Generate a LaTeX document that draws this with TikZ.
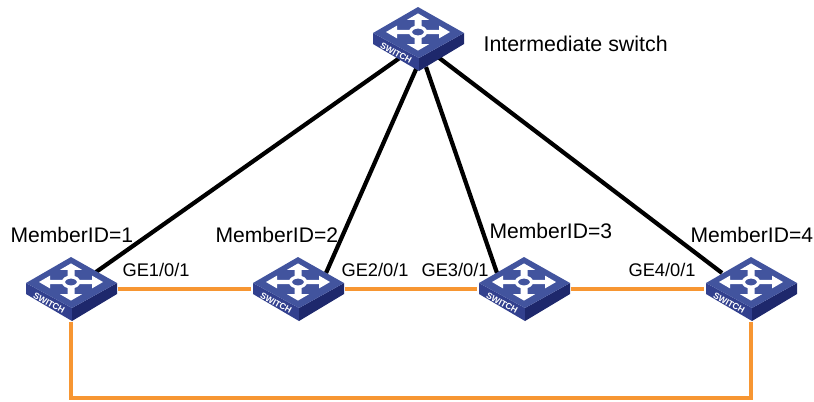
\documentclass[tikz,border=0pt]{standalone}
\usepackage{fontspec}
\setmainfont{Liberation Sans}
\definecolor{swtop}{RGB}{66,84,158}
\definecolor{swleft}{RGB}{50,64,142}
\definecolor{swright}{RGB}{30,40,108}
\definecolor{ringln}{RGB}{247,150,50}
\tikzset{x=.0125cm, y=-.0125cm}
\tikzset{lbl/.style={inner sep=0pt, anchor=base west, font=\fontsize{7.5}{8}\selectfont},
    lblge/.style={lbl, font=\fontsize{6.5}{7}\selectfont},
    upln/.style={line width=1.5pt, black},
    ringl/.style={line width=1.3pt, ringln},
    swbox/.style={minimum width=.0125cm*92, minimum height=.0125cm*64, inner sep=0pt}}
% one switch icon round the node #1
\newcommand*{\swicon}[1]{
    \begin{scope}[shift={(#1)}, yshift=.0125cm*6]
        \fill[swleft](-45, 0)--(1, 25)--(1, 38)--(-45, 11)--cycle;
        \fill[swright](1, 25)--(46, 0)--(46, 11)--(1, 38)--cycle;
        \fill[swtop](0, -26)--(46, 0)--(1, 25)--(-45, 0)--cycle;
        \begin{scope}[yshift=.0125cm*1]
            \foreach \ang in {0, 90, 180, 270}{
                \begin{scope}[cm={cos(\ang)*1, sin(\ang)*.58, -sin(\ang)*1, cos(\ang)*.58, (0, 0)}]
                    \fill[white](6, -3.5)--(21, -3.5)--(21, -11)--(32, 0)--(21, 11)--(21, 3.5)--(6, 3.5)--cycle;
                \end{scope}
            }
            \draw[white, line width=1.1pt, fill=swtop](0, 0)ellipse(7.5 and 5);
        \end{scope}
        \node[white, rotate=-29, inner sep=0pt, font=\bfseries\fontsize{3.1}{3.1}\selectfont]at(-22, 20){SWITCH};
    \end{scope}
}
\begin{document}
\begin{tikzpicture}
    \useasboundingbox(0, 0)rectangle(814, 401);
    \node[swbox](swt)at(418, 39){};		%intermediate
    \node[swbox](sw1)at(71, 289){};
    \node[swbox](sw2)at(298, 289){};
    \node[swbox](sw3)at(524, 289){};
    \node[swbox](sw4)at(751, 289){};
    \coordinate(rg1)at(71, 398);
    \coordinate(rg4)at(751, 398);
    \draw[ringl](sw1)--(sw2);
    \draw[ringl](sw2)--(sw3);
    \draw[ringl](sw3)--(sw4);
    \draw[ringl](sw1)--(rg1)--(rg4)--(sw4);
    \draw[upln]([shift={(-17, 18)}]swt.center)--([shift={(25, -17)}]sw1.center);
    \draw[upln]([shift={(-1, 28)}]swt.center)--([shift={(28, -16)}]sw2.center);
    \draw[upln]([shift={(8, 28)}]swt.center)--([shift={(-27, -16)}]sw3.center);
    \draw[upln]([shift={(20, 18)}]swt.center)--([shift={(-29, -16)}]sw4.center);
    \foreach \nm in {swt, sw1, sw2, sw3, sw4}{\swicon{\nm}}
    \node[lbl, font=\fontsize{7.6}{8}\selectfont](tintm)at(483, 51){Intermediate switch};
    \node[lbl](tm1)at(10, 242){MemberID=1};
    \node[lbl](tm2)at(215, 242){MemberID=2};
    \node[lbl](tm3)at(489, 238){MemberID=3};
    \node[lbl](tm4)at(690, 242){MemberID=4};
    \node[lblge](tg1)at(122, 276){GE1/0/1};
    \node[lblge](tg2)at(341, 276){GE2/0/1};
    \node[lblge](tg3)at(421, 276){GE3/0/1};
    \node[lblge](tg4)at(628, 276){GE4/0/1};
\end{tikzpicture}
\end{document}
